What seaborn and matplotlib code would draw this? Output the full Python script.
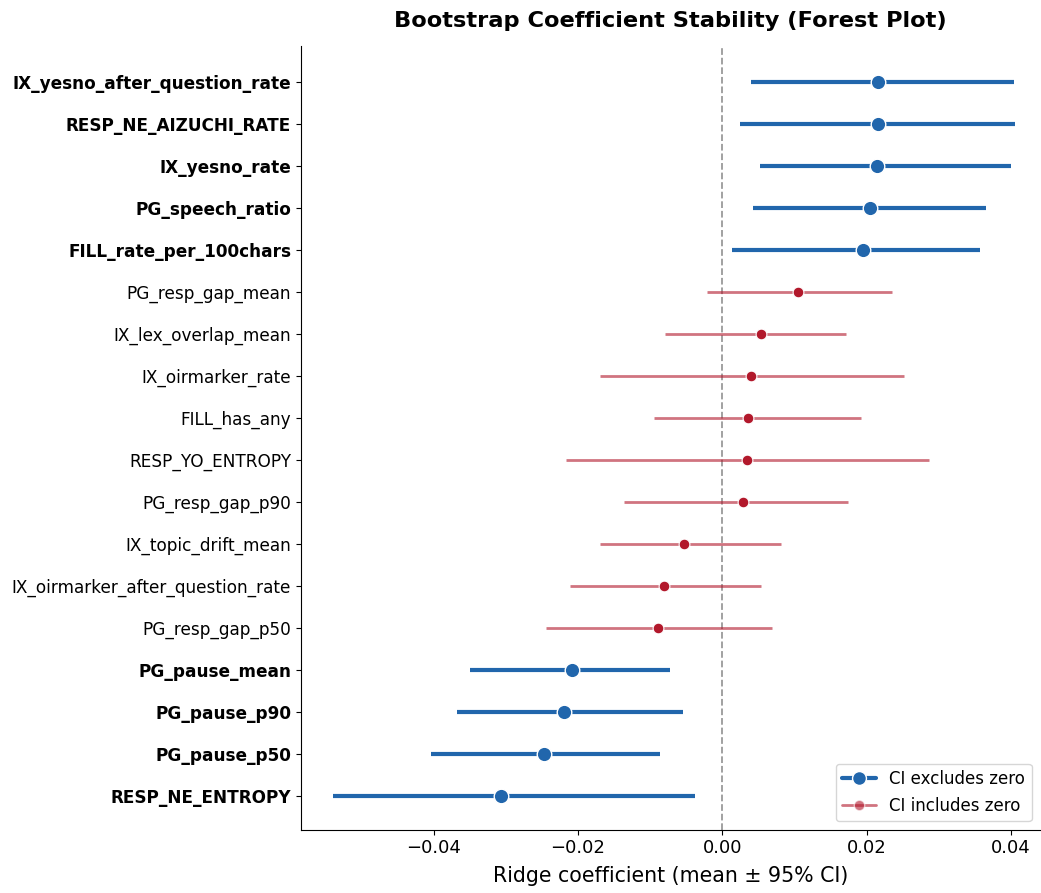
import numpy as np
import pandas as pd
import matplotlib
matplotlib.use("Agg")
import matplotlib.pyplot as plt
from matplotlib.lines import Line2D
import seaborn as sns

# feature names, top to bottom
features = [
    "IX_yesno_after_question_rate", "RESP_NE_AIZUCHI_RATE", "IX_yesno_rate",
    "PG_speech_ratio", "FILL_rate_per_100chars", "PG_resp_gap_mean",
    "IX_lex_overlap_mean", "IX_oirmarker_rate", "FILL_has_any",
    "RESP_YO_ENTROPY", "PG_resp_gap_p90", "IX_topic_drift_mean",
    "IX_oirmarker_after_question_rate", "PG_resp_gap_p50", "PG_pause_mean",
    "PG_pause_p90", "PG_pause_p50", "RESP_NE_ENTROPY",
]
coef_mean = [0.0216, 0.0215, 0.0214, 0.0205, 0.0195, 0.0105,
             0.0054, 0.0039, 0.0036, 0.0034, 0.0029, -0.0053,
             -0.0081, -0.0089, -0.0208, -0.0220, -0.0247, -0.0307]
ci_low = [0.0039, 0.0025, 0.0052, 0.0043, 0.0013, -0.0021,
          -0.0080, -0.0170, -0.0095, -0.0217, -0.0136, -0.0169,
          -0.0211, -0.0245, -0.0350, -0.0368, -0.0404, -0.0540]
ci_high = [0.0404, 0.0406, 0.0400, 0.0365, 0.0357, 0.0235,
           0.0171, 0.0252, 0.0192, 0.0286, 0.0174, 0.0081,
           0.0054, 0.0069, -0.0072, -0.0055, -0.0087, -0.0038]

df = pd.DataFrame({"feature": features, "mean": coef_mean,
                   "lo": ci_low, "hi": ci_high})
df["pos"] = np.arange(len(df))
df["sig"] = (df["lo"] > 0) | (df["hi"] < 0)

BLUE = "#2166ac"
RED = "#b2182b"

sns.set_style("ticks")
plt.rcParams.update({"text.color": "black", "axes.labelcolor": "black",
                     "xtick.color": "black", "ytick.color": "black",
                     "axes.edgecolor": "black"})
fig, ax = plt.subplots(figsize=(10.41, 8.93), dpi=100)
fig.subplots_adjust(left=0.289, right=0.999, top=0.949, bottom=0.071)

ax.axvline(0, color="grey", ls="--", lw=1.3, alpha=0.8, zorder=0)

sig = df[df["sig"]]
ns = df[~df["sig"]]
ax.hlines(sig["pos"], sig["lo"], sig["hi"], color=BLUE, lw=3.0, zorder=2)
ax.hlines(ns["pos"], ns["lo"], ns["hi"], color=RED, lw=2.0, alpha=0.6, zorder=2)
sns.scatterplot(data=sig, x="mean", y="pos", color=BLUE, s=110,
                edgecolor="white", linewidth=1.0, zorder=3, ax=ax, legend=False)
sns.scatterplot(data=ns, x="mean", y="pos", color=RED, s=60,
                edgecolor="white", linewidth=0.8, zorder=3, ax=ax, legend=False)

ax.set_yticks(df["pos"])
ax.set_yticklabels(df["feature"], fontsize=12.2)
for lbl, s in zip(ax.get_yticklabels(), df["sig"]):
    if s:
        lbl.set_fontweight("bold")
ax.set_ylim(len(df) - 1 + 0.81, -0.88)
ax.set_xlim(-0.0584, 0.0440)
ax.set_xticks([-0.04, -0.02, 0.0, 0.02, 0.04])
ax.tick_params(axis="x", labelsize=13)
ax.set_xlabel("Ridge coefficient (mean ± 95% CI)", fontsize=14.8, labelpad=6)
ax.set_ylabel("")
ax.set_title("Bootstrap Coefficient Stability (Forest Plot)",
             fontsize=16.2, fontweight="bold", pad=13)
sns.despine(ax=ax)

handles = [
    Line2D([0], [0], color=BLUE, lw=3.0, marker="o", markersize=10,
           markeredgecolor="white"),
    Line2D([0], [0], color=RED, lw=2.0, alpha=0.6, marker="o",
           markersize=7.5, markeredgecolor="white"),
]
ax.legend(handles, ["CI excludes zero", "CI includes zero"],
          loc="lower right", fontsize=12, frameon=True)

fig.savefig("out.png", dpi=100)
